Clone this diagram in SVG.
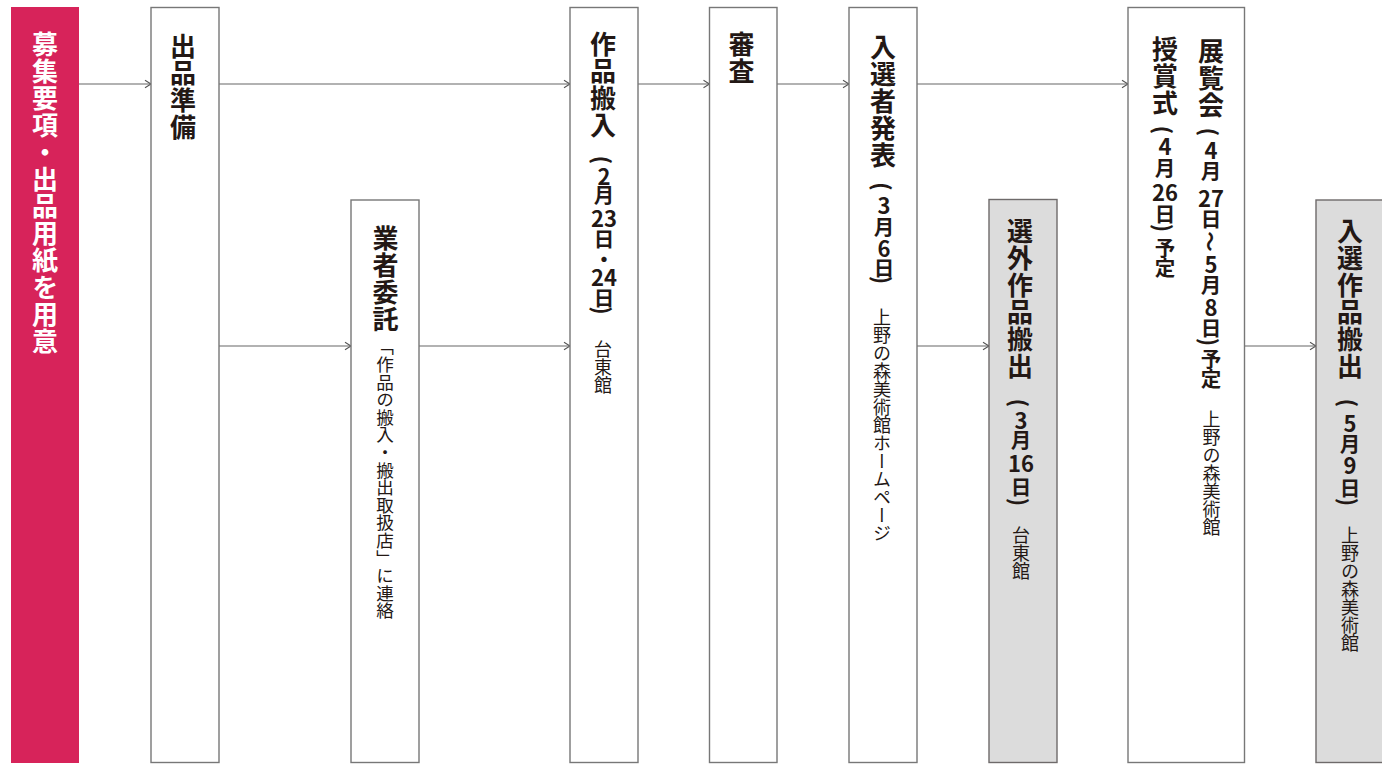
<svg xmlns="http://www.w3.org/2000/svg" width="1382" height="765" viewBox="0 0 1382 765">
<defs>
<marker id="ah" markerUnits="userSpaceOnUse" markerWidth="10" markerHeight="10" refX="7" refY="5" orient="auto">
<path d="M1,1.2 L7,5 L1,8.8" fill="none" stroke="#555" stroke-width="1.1"/>
</marker>
</defs>
<style>
.bx{fill:#fff;stroke:#777;stroke-width:1.4}
.gy{fill:#dcdcdc;stroke:#6e6a6a;stroke-width:1.4}
.rd{fill:#d7235a}
#connectors line{stroke:#666;stroke-width:1.2;marker-end:url(#ah)}
text{font-family:"Noto Sans CJK JP","Noto Sans CJK SC",sans-serif;fill:#231815}
.v{writing-mode:vertical-rl}
.t{font-size:26px;font-weight:700;letter-spacing:1px}
.d{font-size:22px;font-weight:700;text-anchor:middle;dominant-baseline:central}
.k{font-size:20.5px}
.s{font-size:18px;font-weight:400}
.w{fill:#fff}
</style>
<rect width="1382" height="765" fill="#fff"/>

<g id="connectors">
<line x1="79" y1="84" x2="151" y2="84"/>
<line x1="219" y1="84" x2="570" y2="84"/>
<line x1="638" y1="84" x2="709.5" y2="84"/>
<line x1="777" y1="84" x2="849" y2="84"/>
<line x1="917" y1="84" x2="1128" y2="84"/>
<line x1="219" y1="346" x2="351" y2="346"/>
<line x1="419" y1="346" x2="570" y2="346"/>
<line x1="917" y1="346" x2="989" y2="346"/>
<line x1="1244.5" y1="346" x2="1316" y2="346"/>
</g>

<g id="n1">
<rect class="rd" x="11" y="7" width="68" height="756"/>
<text class="t v w" x="45" y="31">募集要項・出品用紙を用意</text>
</g>

<g id="n2">
<rect class="bx" x="151" y="7.5" width="68" height="755"/>
<text class="t v" x="183" y="33.5">出品準備</text>
</g>

<g id="n3">
<rect class="bx" x="351" y="200" width="68" height="562.5"/>
<text class="t v" x="385.5" y="225">業者委託</text>
<text class="s v" x="385" y="338" style="font-size:17.6px">「作品の搬入・搬出取扱店」に連絡</text>
</g>

<g id="n4">
<rect class="bx" x="570" y="7.5" width="68" height="755"/>
<text class="t v" x="603" y="31.5">作品搬入</text>
<text class="d" transform="translate(604,160) rotate(90)">(</text>
<text class="d"><tspan x="604" y="175">2</tspan><tspan class="k" x="604" y="193.5">月</tspan><tspan x="604" y="216.5">23</tspan><tspan class="k" x="604" y="237.5">日</tspan><tspan class="k" x="604" y="257.5">・</tspan><tspan x="604" y="276">24</tspan><tspan class="k" x="604" y="296.5">日</tspan></text>
<text class="d" transform="translate(604,310.5) rotate(90)">)</text>
<text class="s v" x="603" y="340.5">台東館</text>
</g>

<g id="n5">
<rect class="bx" x="709.5" y="7.5" width="67.5" height="755"/>
<text class="t v" x="741.5" y="31.5">審査</text>
</g>

<g id="n6">
<rect class="bx" x="849" y="7.5" width="68" height="755"/>
<text class="t v" x="883" y="34">入選者発表</text>
<text class="d" transform="translate(884,186.5) rotate(90)">(</text>
<text class="d"><tspan x="884" y="204">3</tspan><tspan class="k" x="884" y="225.5">月</tspan><tspan x="884" y="246.5">6</tspan><tspan class="k" x="884" y="266.5">日</tspan></text>
<text class="d" transform="translate(884,280) rotate(90)">)</text>
<text class="s v" x="882" y="308.5">上野の森美術館ホームページ</text>
</g>

<g id="n7">
<rect class="gy" x="989" y="199.5" width="68" height="563"/>
<text class="t v" x="1020" y="218.5">選外作品搬出</text>
<text class="d" transform="translate(1021,403) rotate(90)">(</text>
<text class="d"><tspan x="1021" y="418.5">3</tspan><tspan class="k" x="1021" y="438.5">月</tspan><tspan x="1021" y="461.5">16</tspan><tspan class="k" x="1021" y="486">日</tspan></text>
<text class="d" transform="translate(1021,502) rotate(90)">)</text>
<text class="s v" x="1021" y="526">台東館</text>
</g>

<g id="n8">
<rect class="bx" x="1128" y="7.5" width="116.5" height="755"/>
<text class="t v" x="1211" y="38.5">展覧会</text>
<text class="d" transform="translate(1211,132) rotate(90)">(</text>
<text class="d"><tspan x="1211" y="149">4</tspan><tspan class="k" x="1211" y="170">月</tspan><tspan x="1211" y="197">27</tspan><tspan class="k" x="1211" y="218">日</tspan></text>
<text class="d k" transform="translate(1211,241.5) rotate(90)">～</text>
<text class="d"><tspan x="1211" y="263">5</tspan><tspan class="k" x="1211" y="283.5">月</tspan><tspan x="1211" y="306">8</tspan><tspan class="k" x="1211" y="327">日</tspan></text>
<text class="d" transform="translate(1211,342) rotate(90)">)</text>
<text class="d k"><tspan x="1211" y="357.5">予</tspan><tspan x="1211" y="377.5">定</tspan></text>
<text class="s v" x="1211.5" y="410">上野の森美術館</text>
<text class="t v" x="1165" y="36">授賞式</text>
<text class="d" transform="translate(1165,130) rotate(90)">(</text>
<text class="d"><tspan x="1165" y="145">4</tspan><tspan class="k" x="1165" y="167">月</tspan><tspan x="1165" y="191">26</tspan><tspan class="k" x="1165" y="213">日</tspan></text>
<text class="d" transform="translate(1165,228) rotate(90)">)</text>
<text class="d k"><tspan x="1165" y="247">予</tspan><tspan x="1165" y="267">定</tspan></text>
</g>

<g id="n9">
<rect class="gy" x="1316" y="200" width="80" height="562.5"/>
<text class="t v" x="1350" y="218">入選作品搬出</text>
<text class="d" transform="translate(1350,403) rotate(90)">(</text>
<text class="d"><tspan x="1350" y="421.5">5</tspan><tspan class="k" x="1350" y="443">月</tspan><tspan x="1350" y="463.5">9</tspan><tspan class="k" x="1350" y="486.5">日</tspan></text>
<text class="d" transform="translate(1350,502) rotate(90)">)</text>
<text class="s v" x="1350" y="526">上野の森美術館</text>
</g>
</svg>
